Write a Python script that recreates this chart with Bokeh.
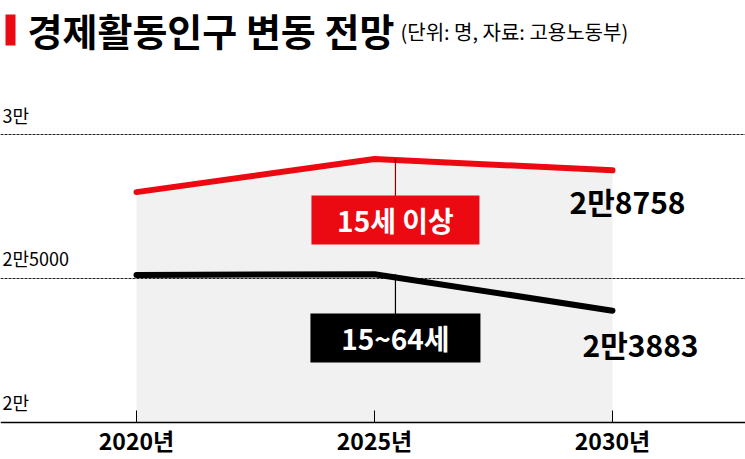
from bokeh.plotting import figure
from bokeh.models import FixedTicker, Label, BoxAnnotation, Range1d
from bokeh.core.properties import value
from bokeh.embed import file_html
from bokeh.resources import INLINE

# 경제활동인구 변동 전망 (단위: 명, 자료: 고용노동부)
years = [2020, 2025, 2030]
year_labels = ["2020년", "2025년", "2030년"]
age15_plus = [28000, 29150, 28758]     # 15세 이상
age15_64 = [25120, 25150, 23883]       # 15~64세
y_ticks = [20000, 25000, 30000]
y_tick_labels = ["2만", "2만5000", "3만"]
grid_vals = [25000, 30000]
end_labels = ["2만8758", "2만3883"]

FONT = "Noto Sans CJK KR"
RED = "#ec0a12"

p = figure(width=745, height=459, output_backend="svg", toolbar_location=None,
           x_range=Range1d(2017.143, 2032.794), y_range=Range1d(18715, 34653),
           y_axis_location=None, min_border=0, outline_line_color=None)
p.xgrid.visible = False
p.ygrid.visible = False

# gray area under the 15+ line
p.varea(x=years, y1=[y_ticks[0]] * len(years), y2=age15_plus, fill_color="#f1f1f1")

# dashed gridlines
p.hspan(y=grid_vals, line_color="#222222", line_width=1, line_dash="3 1")

# y tick labels sitting above the gridlines
p.text(x=[p.x_range.start] * len(y_ticks), y=y_ticks, text=y_tick_labels,
       text_font=value(FONT), text_font_size="18px", text_color="black",
       text_align="left", text_baseline="alphabetic", x_offset=2, y_offset=-20)

# lines
p.line(years, age15_plus, line_color=RED, line_width=6, line_cap="round")
p.line(years, age15_64, line_color="black", line_width=6, line_cap="round")

# series name boxes with connectors
ann_x = years[1] + 0.44
red_box_y = 27030
black_box_y = 22930
p.segment(x0=[ann_x], y0=[age15_plus[1]], x1=[ann_x], y1=[red_box_y], line_color="#8a0000", line_width=1.2)
p.segment(x0=[ann_x], y0=[age15_64[1]], x1=[ann_x], y1=[black_box_y], line_color="black", line_width=1.2)
p.rect(x=[ann_x], y=[red_box_y], width=168, height=49, width_units="screen", height_units="screen",
       fill_color=RED, line_color=None)
p.rect(x=[ann_x], y=[black_box_y], width=170, height=49, width_units="screen", height_units="screen",
       fill_color="black", line_color=None)
p.text(x=[ann_x], y=[red_box_y], text=["15세 이상"], text_font=value(FONT), text_font_size="28px",
       text_font_style="bold", text_color="white", text_align="center", text_baseline="middle")
p.text(x=[ann_x], y=[black_box_y], text=["15~64세"], text_font=value(FONT), text_font_size="28px",
       text_font_style="bold", text_color="white", text_align="center", text_baseline="middle")

# end values
p.text(x=[years[2]], y=[age15_plus[2]], text=[end_labels[0]], text_font=value(FONT),
       text_font_size="30px", text_font_style="bold", text_color="black",
       text_align="center", text_baseline="middle", x_offset=15, y_offset=31)
p.text(x=[years[2]], y=[age15_64[2]], text=[end_labels[1]], text_font=value(FONT),
       text_font_size="30px", text_font_style="bold", text_color="black",
       text_align="center", text_baseline="middle", x_offset=28, y_offset=33)

# x axis drawn at 2만 inside the frame
p.xaxis.fixed_location = y_ticks[0]
p.xaxis.ticker = FixedTicker(ticks=years)
p.xaxis.major_label_overrides = dict(zip(years, year_labels))
p.xaxis.major_label_text_font = FONT
p.xaxis.major_label_text_font_size = "23px"
p.xaxis.major_label_text_font_style = "bold"
p.xaxis.major_label_text_color = "black"
p.xaxis.major_label_standoff = 1
p.xaxis.axis_line_color = "black"
p.xaxis.axis_line_width = 1.5
p.xaxis.major_tick_in = 12
p.xaxis.major_tick_out = 0
p.xaxis.major_tick_line_color = "black"
p.xaxis.minor_tick_line_color = None

# title
p.add_layout(BoxAnnotation(left=5, right=15, top=445, bottom=414, left_units="screen", right_units="screen",
                           top_units="screen", bottom_units="screen", fill_color=RED, fill_alpha=1,
                           line_color=None))
p.add_layout(Label(x=27, y=430, x_units="screen", y_units="screen", text="경제활동인구 변동 전망",
                   text_font=FONT, text_font_size="38px", text_font_style="bold",
                   text_color="black", text_baseline="middle"))
p.add_layout(Label(x=400, y=428, x_units="screen", y_units="screen", text="(단위: 명, 자료: 고용노동부)",
                   text_font=FONT, text_font_size="20px", text_color="black", text_baseline="middle"))

open("out.html", "w").write(file_html(p, INLINE))
